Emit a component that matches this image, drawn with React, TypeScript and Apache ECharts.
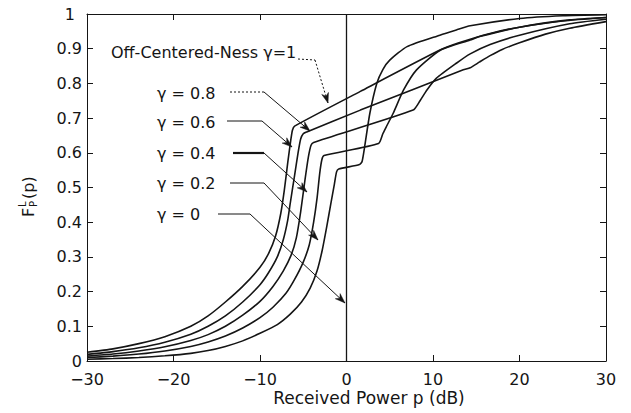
import React, { useEffect, useRef } from "react";
import * as echarts from "echarts";

// Received power p (dB) vs F_P^L(p), one curve per off-centered-ness γ
const gamma1: [number, number][] = [
  [-30, 0.025], [-27, 0.035], [-24, 0.05], [-21, 0.07], [-18, 0.1], [-16, 0.13], [-14, 0.17],
  [-12, 0.215], [-10, 0.27], [-9, 0.31], [-8.2, 0.36], [-7.6, 0.425], [-7.2, 0.49], [-6.8, 0.57],
  [-6.45, 0.635], [-6.25, 0.665], [-6.0, 0.677], [1.6, 0.777], [10.8, 0.896], [13, 0.917],
  [16.6, 0.944], [20, 0.962], [25, 0.98], [30, 0.99],
];
const gamma08: [number, number][] = [
  [-30, 0.019], [-27, 0.027], [-24, 0.038], [-21, 0.054], [-18, 0.077], [-16, 0.1], [-14, 0.13],
  [-12, 0.17], [-10, 0.22], [-9, 0.255], [-8, 0.3], [-7.3, 0.35], [-6.8, 0.405], [-6.5, 0.455],
  [-6.0, 0.535], [-5.6, 0.6], [-5.3, 0.64], [-5.0, 0.655], [-4.6, 0.66], [1.6, 0.723],
  [13.5, 0.839], [14.3, 0.845], [15.4, 0.862], [16.6, 0.88], [18, 0.898], [20, 0.917],
  [23, 0.942], [25.8, 0.959], [30, 0.978],
];
const gamma06: [number, number][] = [
  [-30, 0.014], [-27, 0.02], [-24, 0.029], [-21, 0.041], [-18, 0.059], [-16, 0.076], [-14, 0.1],
  [-12, 0.132], [-10, 0.172], [-8.5, 0.215], [-7.3, 0.26], [-6.4, 0.305], [-5.8, 0.355],
  [-5.3, 0.43], [-4.8, 0.522], [-4.4, 0.589], [-4.1, 0.622], [-3.8, 0.63], [7.7, 0.723],
  [8.5, 0.75], [9.3, 0.781], [10.4, 0.815], [12.7, 0.858], [14.3, 0.885], [16.6, 0.912],
  [20, 0.939], [25.8, 0.972], [30, 0.985],
];
const gamma04: [number, number][] = [
  [-30, 0.01], [-27, 0.014], [-24, 0.02], [-21, 0.029], [-18, 0.042], [-16, 0.055], [-14, 0.072],
  [-12, 0.095], [-10, 0.125], [-8.5, 0.155], [-7, 0.195], [-6, 0.235], [-5, 0.285], [-4.3, 0.335],
  [-3.8, 0.4], [-3.4, 0.47], [-3.1, 0.54], [-2.85, 0.58], [-2.6, 0.592], [3.7, 0.627],
  [4.2, 0.655], [4.6, 0.675], [5.4, 0.714], [6.6, 0.781], [8.1, 0.839], [10.8, 0.895],
  [14.3, 0.925], [15.4, 0.935], [20, 0.962], [25.8, 0.983], [30, 0.99],
];
const gamma02: [number, number][] = [
  [-30, 0.005], [-27, 0.007], [-24, 0.01], [-21, 0.015], [-18, 0.022], [-16, 0.03], [-14, 0.042],
  [-12, 0.058], [-10, 0.08], [-8, 0.105], [-6.5, 0.135], [-5.2, 0.17], [-4.2, 0.21], [-3.4, 0.26],
  [-2.8, 0.32], [-2.3, 0.385], [-1.8, 0.455], [-1.4, 0.51], [-1.15, 0.545], [-0.9, 0.553],
  [1.5, 0.566], [1.8, 0.575], [2.1, 0.618], [2.7, 0.714], [3.5, 0.8], [4.2, 0.84], [5.0, 0.867],
  [7.0, 0.906], [10.8, 0.939], [12.7, 0.954], [14.3, 0.966], [20, 0.987], [25, 0.995], [30, 0.998],
];
const gamma0: [number, number][] = [
  [0, 0], [0, 1],
];

const curveNames = ["γ = 1", "γ = 0.8", "γ = 0.6", "γ = 0.4", "γ = 0.2", "γ = 0"];
const curveData = [gamma1, gamma08, gamma06, gamma04, gamma02, gamma0];

const labelTexts = ["Off-Centered-Ness γ=1", "γ = 0.8", "γ = 0.6", "γ = 0.4", "γ = 0.2", "γ = 0"];

const xAxisTitle = "Received Power p (dB)";

const FONT = "'DejaVu Sans', 'Liberation Sans', Arial, sans-serif";
const INK = "#151515";

// annotation layout (pixels): text anchor, leader polyline, style
const annotations = [
  { tx: 111, ty: 52, pts: [[298, 59], [315, 60], [328, 103]], dash: [2, 2], dashAll: true, w: 1 },
  { tx: 157, ty: 93, pts: [[230, 92], [264, 92], [310, 131]], dash: [2, 2], dashAll: false, w: 1 },
  { tx: 157, ty: 122, pts: [[227, 121], [262, 121], [292, 147]], dash: null, dashAll: false, w: 1 },
  { tx: 157, ty: 153, pts: [[233, 153], [264, 153], [307, 192]], dash: null, dashAll: false, w: 1, thickFirst: true },
  { tx: 157, ty: 183, pts: [[230, 183], [264, 183], [318, 240]], dash: null, dashAll: false, w: 1 },
  { tx: 157, ty: 214, pts: [[218, 214], [250, 214], [345, 303]], dash: null, dashAll: false, w: 1 },
];

function arrowHead(p: number[], t: number[], len = 10, half = 3.5) {
  const dx = t[0] - p[0];
  const dy = t[1] - p[1];
  const L = Math.hypot(dx, dy) || 1;
  const ux = dx / L, uy = dy / L;
  const bx = t[0] - ux * len, by = t[1] - uy * len;
  const nx = -uy, ny = ux;
  return [
    [t[0], t[1]],
    [bx + nx * half, by + ny * half],
    [t[0] - ux * len * 0.7, t[1] - uy * len * 0.7],
    [bx - nx * half, by - ny * half],
  ];
}

function buildGraphics() {
  const els: any[] = [];
  annotations.forEach((a, i) => {
    els.push({
      type: "text",
      x: a.tx,
      y: a.ty,
      style: { text: labelTexts[i], fontSize: 16, fontFamily: FONT, fill: INK, align: "left", verticalAlign: "middle" },
    });
    const [p0, p1, p2] = a.pts;
    els.push({
      type: "polyline",
      shape: { points: [p0, p1] },
      style: { stroke: INK, lineWidth: (a as any).thickFirst ? 2.2 : a.w, lineDash: a.dash || undefined, fill: null },
    });
    els.push({
      type: "polyline",
      shape: { points: [p1, p2] },
      style: { stroke: INK, lineWidth: a.w, lineDash: a.dashAll ? a.dash : undefined, fill: null },
    });
    els.push({
      type: "polygon",
      shape: { points: arrowHead(p1, p2) },
      style: { fill: INK, stroke: INK, lineWidth: 0.5 },
    });
  });
  // x-axis title
  els.push({
    type: "text",
    x: 369,
    y: 398,
    style: { text: xAxisTitle, fontSize: 17, fontFamily: FONT, fill: INK, align: "center", verticalAlign: "middle" },
  });
  // y-axis title, rotated: F with sub P / sup L, then (p)
  els.push({
    type: "group",
    x: 28,
    y: 197,
    rotation: Math.PI / 2,
    children: [
      { type: "text", x: -20, y: 0, style: { text: "F", fontSize: 16, fontFamily: FONT, fill: INK, align: "left", verticalAlign: "middle" } },
      { type: "text", x: -10, y: 5, style: { text: "P", fontSize: 10, fontFamily: FONT, fill: INK, align: "left", verticalAlign: "middle" } },
      { type: "text", x: -10, y: -6, style: { text: "L", fontSize: 10, fontFamily: FONT, fill: INK, align: "left", verticalAlign: "middle" } },
      { type: "text", x: -2, y: 0, style: { text: "(p)", fontSize: 16, fontFamily: FONT, fill: INK, align: "left", verticalAlign: "middle" } },
    ],
  });
  return els;
}

export default function App() {
  const ref = useRef<HTMLDivElement>(null);
  useEffect(() => {
    if (!ref.current) return;
    const chart = echarts.init(ref.current, undefined, { renderer: "svg" });
    const axisLine = { show: true, onZero: false, lineStyle: { color: INK, width: 1 } };
    const tick = { show: true, inside: true, length: 6, lineStyle: { color: INK, width: 1 } };
    const xBase = { type: "value", min: -30, max: 30, interval: 10, splitLine: { show: false }, axisLine, axisTick: tick };
    const yBase = { type: "value", min: 0, max: 1, interval: 0.1, splitLine: { show: false }, axisLine, axisTick: tick };
    chart.setOption({
      animation: false,
      backgroundColor: "#ffffff",
      grid: { left: 87, right: 25, top: 14, bottom: 52, containLabel: false },
      xAxis: [
        {
          ...xBase,
          position: "bottom",
          axisLabel: {
            show: true, margin: 10, fontSize: 16, fontFamily: FONT, color: INK,
            formatter: (v: number) => (v < 0 ? "−" + Math.abs(v) : String(v)),
          },
        },
        { ...xBase, position: "top", axisLabel: { show: false } },
      ],
      yAxis: [
        {
          ...yBase,
          position: "left",
          axisLabel: {
            show: true, margin: 5, fontSize: 16, fontFamily: FONT, color: INK,
            formatter: (v: number) => (v === 0 ? "0" : Math.abs(v - 1) < 1e-9 ? "{one|1}" : v.toFixed(1)),
            rich: { one: { fontSize: 16, fontFamily: FONT, color: INK, padding: [0, 7, 0, 0] } },
          },
        },
        { ...yBase, position: "right", axisLabel: { show: false } },
      ],
      series: curveData.map((d, i) => ({
        name: curveNames[i],
        type: "line",
        data: d,
        xAxisIndex: 0,
        yAxisIndex: 0,
        showSymbol: false,
        smooth: i === 5 ? false : 0.2,
        lineStyle: { color: INK, width: i === 5 ? 1.3 : 1.6 },
        z: 3,
      })),
      graphic: buildGraphics(),
    });
    return () => chart.dispose();
  }, []);
  return <div ref={ref} style={{ width: 631, height: 413, position: "absolute", left: 0, top: 0 }} />;
}
